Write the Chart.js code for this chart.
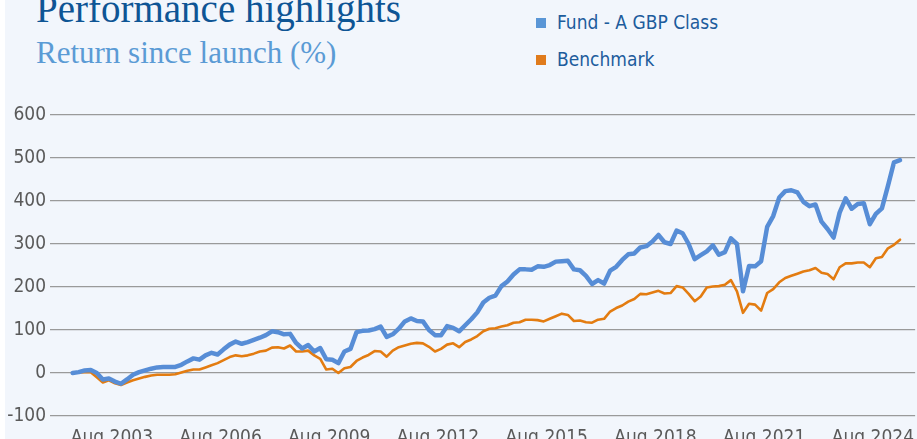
<!DOCTYPE html>
<html>
<head>
<meta charset="utf-8">
<script src="https://cdn.jsdelivr.net/npm/chart.js@4/dist/chart.umd.min.js"></script>
<style>
html,body{margin:0;padding:0;width:917px;height:439px;overflow:hidden;background:#f2f6fc;}
#strip{position:absolute;left:0;top:0;width:5px;height:439px;background:#ffffff;}
.t{position:absolute;white-space:nowrap;}
#title{left:36px;top:-11px;font-family:'Liberation Serif',serif;font-size:39px;line-height:39px;color:#0e5595;}
#subtitle{left:36px;top:37px;font-family:'Liberation Serif',serif;font-size:31px;line-height:31px;color:#5b9bd5;}
.lg{position:absolute;left:557px;font-family:'DejaVu Sans Condensed','Liberation Sans',sans-serif;font-size:19px;line-height:19px;color:#1d5c9c;white-space:nowrap;}
.sq{position:absolute;left:536px;width:10px;height:10px;}
#c{position:absolute;left:0;top:0;width:917px;height:439px;}
</style>
</head>
<body>
<div id="strip"></div>
<div id="title" class="t">Performance highlights</div>
<div id="subtitle" class="t">Return since launch (%)</div>
<div class="sq" style="top:18px;background:#5a96d6"></div>
<div class="lg" style="top:13px">Fund - A GBP Class</div>
<div class="sq" style="top:55px;background:#e07b1c"></div>
<div class="lg" style="top:50px">Benchmark</div>
<canvas id="c" width="917" height="439"></canvas>
<script>
// Series names
const seriesNames = ['Fund - A GBP Class', 'Benchmark'];
// First data point: Jul 2002, one point every 2 months
const startYear = 2002, startMonthIdx = 6, stepMonths = 2;
// Fund return since launch (%)
const fundValues = [
  0,2,6,7,0,-15,-13,-20,-25,-15,
  -4,2,6,10,13,14,14,14,19,27,
  34,31,41,47,43,55,66,73,68,72,
  77,82,88,97,95,90,91,70,57,65,
  50,58,32,31,23,50,56,95,98,99,
  102,108,84,90,103,120,127,121,120,100,
  88,88,109,105,97,111,125,141,164,175,
  180,202,213,229,241,241,240,248,247,251,
  259,260,261,241,239,226,207,216,208,238,
  247,263,276,278,292,295,306,321,304,300,
  331,325,300,265,274,283,297,275,281,313,
  300,190,249,248,260,340,365,408,423,425,
  420,398,388,392,352,335,315,373,406,382,
  393,395,346,370,383,435,490,495
];
// Benchmark return since launch (%)
const benchValues = [
  0,1,2,2,-10,-22,-17,-24,-28,-22,
  -17,-13,-9,-6,-4,-4,-4,-3,1,5,
  8,8,13,18,23,30,37,41,39,41,
  45,50,52,59,60,57,64,50,50,52,
  41,33,8,10,0,11,14,28,36,42,
  51,50,38,52,60,64,68,70,69,61,
  50,56,66,69,60,72,78,86,97,103,
  104,108,111,117,118,124,124,123,120,126,
  132,138,135,121,122,118,117,124,126,143,
  151,157,166,172,184,183,187,191,185,186,
  202,199,184,167,178,199,201,202,205,216,
  190,140,161,159,145,186,195,211,221,226,
  231,236,239,244,233,230,218,246,255,255,
  257,257,246,267,270,290,298,310
];
// X tick labels (months since Jan 2002)
const tickMonths = [19, 55, 91, 127, 163, 199, 235, 271];
const tickLabels = ['Aug 2003','Aug 2006','Aug 2009','Aug 2012','Aug 2015','Aug 2018','Aug 2021','Aug 2024'];
// Y ticks
const yTicks = [-100, 0, 100, 200, 300, 400, 500, 600];

const monthPos = fundValues.map((_, i) => startMonthIdx + i * stepMonths);
const fundData = fundValues.map((v, i) => ({x: monthPos[i], y: v}));
const benchData = benchValues.map((v, i) => ({x: monthPos[i], y: v}));

const axisFont = {family: "'DejaVu Sans Condensed','Liberation Sans',sans-serif", size: 19};

new Chart(document.getElementById('c'), {
  type: 'line',
  data: {
    datasets: [
      {label: seriesNames[0], data: fundData, borderColor: '#578dd6', borderWidth: 4.5,
       pointRadius: 0, tension: 0, borderJoinStyle: 'round', borderCapStyle: 'round'},
      {label: seriesNames[1], data: benchData, borderColor: '#e37c11', borderWidth: 2.6,
       pointRadius: 0, tension: 0, borderJoinStyle: 'round', borderCapStyle: 'round'}
    ]
  },
  options: {
    responsive: false,
    devicePixelRatio: 1,
    animation: false,
    layout: {padding: {left: 0, right: 0, top: 115, bottom: 0}},
    plugins: {legend: {display: false}, tooltip: {enabled: false}},
    scales: {
      x: {
        type: 'linear',
        min: -1.5, max: 285,
        grid: {display: false},
        border: {display: false},
        afterBuildTicks: (axis) => { axis.ticks = tickMonths.map(v => ({value: v})); },
        afterFit: (s) => { s.height = 23; },
        ticks: {
          autoSkip: false, maxRotation: 0, minRotation: 0, padding: 3,
          color: '#5a5a5a', font: axisFont,
          callback: (v) => { const k = tickMonths.indexOf(v); return k >= 0 ? tickLabels[k] : ''; }
        }
      },
      y: {
        min: -100, max: 600,
        afterBuildTicks: (axis) => { axis.ticks = yTicks.map(v => ({value: v})); },
        afterFit: (s) => { s.width = 50; },
        grid: {color: '#9a9a9a', lineWidth: 1.3, drawTicks: false},
        border: {display: false},
        ticks: {padding: 4, color: '#5a5a5a', font: axisFont}
      }
    }
  }
});
</script>
</body>
</html>
